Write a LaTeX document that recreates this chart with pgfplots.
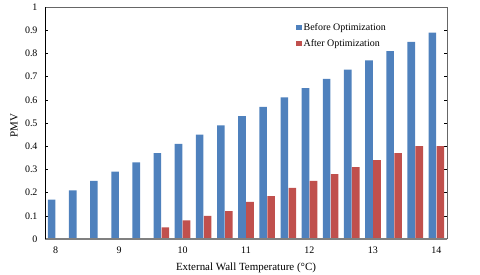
\documentclass[border=0pt]{standalone}
\usepackage{pgfplots}
\pgfplotsset{compat=1.18}
\usepackage{fontspec}
\setmainfont{Liberation Serif}
\definecolor{cblue}{HTML}{4F81BD}
\definecolor{cred}{HTML}{C0504D}
\begin{document}
\begin{tikzpicture}
\begin{axis}[
  scale only axis,
  width=402bp, height=232bp,
  ybar=0.4bp, bar width=7.6bp,
  xmin=-0.5, xmax=18.5, ymin=0, ymax=1,
  axis line style={draw=none},
  xtick={0,3,6,9,12,15,18},
  xticklabels={8,9,10,11,12,13,14},
  major x tick style={draw=none},
  extra x ticks={2.5,5.5,8.5,11.5,14.5,17.5},
  extra x tick labels={},
  extra x tick style={major tick length=2.5bp, tick style={black, line width=0.6pt}, tick align=inside},
  ytick={0,0.1,...,1.01},
  yticklabel style={/pgf/number format/fixed, /pgf/number format/precision=1, xshift=-4bp},
  xticklabel style={yshift=-4bp},
  y tick style={black, line width=0.5pt},
  tick align=inside, major tick length=3bp,
  /pgf/number format/assume math mode=true,
  ticklabel style={font=\fontsize{10}{12}\selectfont},
  every axis y label/.style={at={(axis description cs:-0.077,0.49)}, rotate=90, anchor=center},
  every axis x label/.style={at={(axis description cs:0.5,-0.125)}, anchor=center},
  label style={font=\fontsize{11}{13}\selectfont},
  xlabel={External Wall Temperature (°C)},
  ylabel={PMV},
  legend style={draw=none, fill=none, at={(0.625,0.94)}, anchor=north west,
    font=\fontsize{10}{12}\selectfont, row sep=4pt, inner sep=0pt},
  legend cell align=left,
  clip=false,
]
\addplot[fill=cblue, draw=none,
  legend image code/.code={\fill[cblue] (0bp,-2.6bp) rectangle (5.2bp,2.6bp);}]
  coordinates {(0,0.17) (1,0.21) (2,0.25) (3,0.29) (4,0.33) (5,0.37) (6,0.41) (7,0.45) (8,0.49) (9,0.53) (10,0.57) (11,0.61) (12,0.65) (13,0.69) (14,0.73) (15,0.77) (16,0.81) (17,0.85) (18,0.89)};
\addlegendentry{Before Optimization}
\addplot[fill=cred, draw=none,
  legend image code/.code={\fill[cred] (0bp,-2.6bp) rectangle (5.2bp,2.6bp);}]
  coordinates {(0,0) (1,0) (2,0) (3,0) (4,0) (5,0.05) (6,0.08) (7,0.10) (8,0.12) (9,0.16) (10,0.185) (11,0.22) (12,0.25) (13,0.28) (14,0.31) (15,0.34) (16,0.37) (17,0.40) (18,0.40)};
\addlegendentry{After Optimization}
\draw[gray!80!black, line width=0.9pt] (rel axis cs:0,1) -- (rel axis cs:1,1) -- (rel axis cs:1,0);
\draw[gray, line width=1.4pt] (rel axis cs:0,0) -- (rel axis cs:1,0);
\draw[black, line width=0.6pt] (rel axis cs:0,0) -- (rel axis cs:0,1);
\end{axis}
\pgfresetboundingbox
\path[use as bounding box] (-45bp,-36bp) rectangle (435bp,239bp);
\end{tikzpicture}
\end{document}
